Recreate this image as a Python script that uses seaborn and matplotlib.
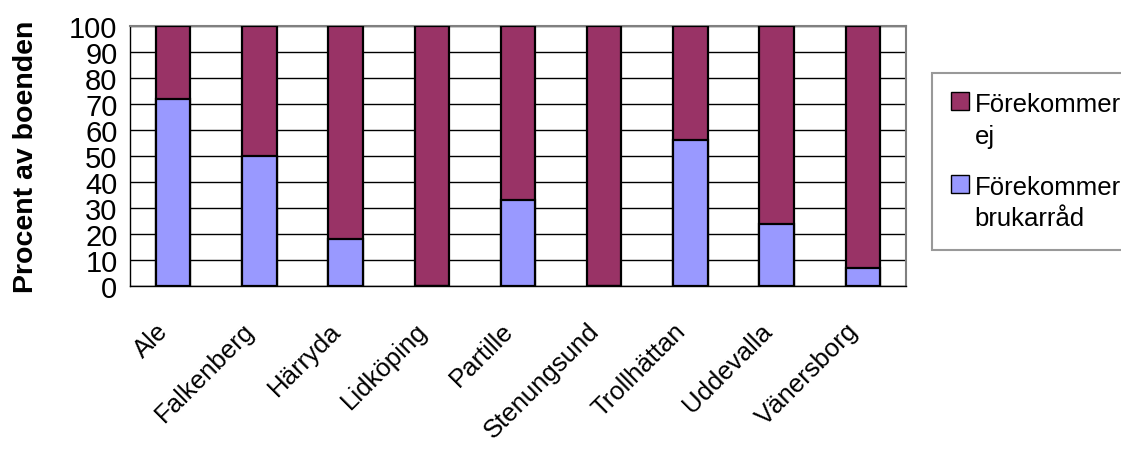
import numpy as np
import pandas as pd
import seaborn as sns
import matplotlib.pyplot as plt
from matplotlib.patches import Patch, Rectangle
from matplotlib.legend_handler import HandlerPatch

# Data (percent of homes)
kommuner = ["Ale", "Falkenberg", "Härryda", "Lidköping", "Partille",
            "Stenungsund", "Trollhättan", "Uddevalla", "Vänersborg"]
brukarrad = [72, 50, 18, 0, 33, 0, 56, 24, 7]
ej = [28, 50, 82, 100, 67, 100, 44, 76, 93]

serie_namn = ["Förekommer\nej", "Förekommer\nbrukarråd"]
farger = ["#993366", "#9999FF"]

sns.set_theme(style="white")
plt.rcParams["font.family"] = ["Liberation Sans", "DejaVu Sans"]
plt.rcParams["text.color"] = "black"
plt.rcParams["axes.labelcolor"] = "black"
plt.rcParams["xtick.color"] = "black"
plt.rcParams["ytick.color"] = "black"

df = pd.DataFrame({"kommun": kommuner, "brukarrad": brukarrad, "ej": ej})
df["total"] = df["brukarrad"] + df["ej"]

fig = plt.figure(figsize=(11.21, 4.52), dpi=100)
ax = fig.add_axes([130 / 1121, 1 - 287 / 452, 776 / 1121, 260 / 452])

# stacked bars: full height (ej on top) then brukarråd over it
sns.barplot(data=df, x="kommun", y="total", color=farger[0], width=0.4,
            edgecolor="black", linewidth=1.6, saturation=1, ax=ax, zorder=3)
sns.barplot(data=df, x="kommun", y="brukarrad", color=farger[1], width=0.4,
            edgecolor="black", linewidth=1.6, saturation=1, ax=ax, zorder=4)

ax.set_ylim(0, 100)
ax.set_xlim(-0.5, len(kommuner) - 0.5)
ax.set_yticks(np.arange(0, 101, 10))
ax.yaxis.grid(True, color="black", linewidth=1)
ax.set_axisbelow(True)

ax.set_xlabel("")
ax.set_ylabel("Procent av boenden", fontsize=20.5, fontweight="bold", labelpad=22)

# x ticks: marks between categories, labels at the centres
ax.set_xticks(np.arange(-0.5, len(kommuner)), minor=True)
ax.tick_params(axis="x", which="minor", length=7, width=1, color="black", direction="out")
ax.tick_params(axis="x", which="major", length=0, pad=23)
ax.tick_params(axis="y", length=7, width=1, color="black", direction="out", pad=2)
ax.set_xticklabels(kommuner, rotation=45, ha="right", va="top", fontsize=18.5)
for lab in ax.get_yticklabels():
    lab.set_fontsize(21)

for side in ["left", "bottom"]:
    ax.spines[side].set_color("black")
    ax.spines[side].set_linewidth(1)
for side in ["top", "right"]:
    ax.spines[side].set_color("#808080")
    ax.spines[side].set_linewidth(1.5)


# legend squares sit next to the first line of each two-line label
def top_square(legend, orig_handle, xdescent, ydescent, width, height, fontsize):
    return Rectangle((-xdescent, -ydescent + 0.75 * fontsize), width, height)


handles = [Patch(facecolor=farger[0], edgecolor="black", label=serie_namn[0]),
           Patch(facecolor=farger[1], edgecolor="black", label=serie_namn[1])]
leg = fig.legend(handles=handles, loc="upper left",
                 bbox_to_anchor=(932 / 1121, 1 - 74 / 452),
                 fontsize=18.5, frameon=True, fancybox=False,
                 handlelength=0.7, handleheight=0.7, handletextpad=0.2,
                 labelspacing=1.05, borderpad=0.75, borderaxespad=0,
                 handler_map={Patch: HandlerPatch(patch_func=top_square)})
for t in leg.get_texts():
    t.set_linespacing(1.4)
leg.get_frame().set_edgecolor("#808080")
leg.get_frame().set_linewidth(1.5)

fig.savefig("out.png", dpi=100)
